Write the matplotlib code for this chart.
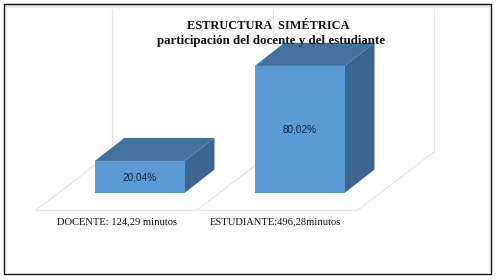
import matplotlib
matplotlib.use("Agg")
import matplotlib.pyplot as plt
from matplotlib.patches import Polygon, Rectangle

categories = ["DOCENTE: 124,29 minutos", "ESTUDIANTE:496,28minutos"]
values = [20.04, 80.02]
value_labels = ["20,04%", "80,02%"]
title_lines = ["ESTRUCTURA  SIMÉTRICA", "participación del docente y del estudiante"]

FRONT = "#5B9BD5"
TOP = "#44729E"
SIDE = "#3A668F"
GRID = "#E6E6E6"

bar_w = 0.5625      # share of one category
dx, dy = 0.186, 14.6  # oblique offset of the bar depth
floor_dx, floor_dy = 0.475, 36.6
floor_y = -10.9
wall_top = 116.0

fig = plt.figure(figsize=(4.96, 2.80), dpi=100, facecolor="white")
ax = fig.add_axes([0, 0, 1, 1])
ax.set_xlim(-0.873, 2.2266)
ax.set_ylim(-55.0, 121.6)
ax.axis("off")

# floor and walls
left, right = -0.648, 1.363
for x in [left, (left + right) / 2, right]:
    ax.plot([x, x + floor_dx], [floor_y, floor_y + floor_dy], color=GRID, lw=1, zorder=1)
    ax.plot([x + floor_dx, x + floor_dx], [floor_y + floor_dy, wall_top], color=GRID, lw=1, zorder=1)
ax.plot([left, right], [floor_y, floor_y], color=GRID, lw=1, zorder=1)

# bars
for i, (v, lab) in enumerate(zip(values, value_labels)):
    x0, x1 = i - bar_w / 2, i + bar_w / 2
    ax.add_patch(Polygon([(x0, v), (x1, v), (x1 + dx, v + dy), (x0 + dx, v + dy)], fc=TOP, ec="none", zorder=2))
    ax.add_patch(Polygon([(x1, 0), (x1 + dx, dy), (x1 + dx, v + dy), (x1, v)], fc=SIDE, ec="none", zorder=2))
    ax.add_patch(Rectangle((x0, 0), bar_w, v, fc=FRONT, ec="none", zorder=3))
    ax.text(i, v / 2 - 0.3, lab, ha="center", va="center", fontsize=7.2, family="Liberation Sans",
            color="#12233A", zorder=4)
    ax.text(i - 0.144 - 0.011 * i, -18, categories[i], ha="center", va="center", fontsize=7.6,
            family="Liberation Serif", color="#111111", zorder=4)

ax.text(0.540, 0.908, title_lines[0], transform=ax.transAxes, ha="center", va="center", fontsize=8.9,
        family="Liberation Serif", weight="bold", color="#111111", zorder=5)
ax.text(0.546, 0.855, title_lines[1], transform=ax.transAxes, ha="center", va="center", fontsize=9.3,
        family="Liberation Serif", weight="bold", color="#111111", zorder=5)

# frame of the picture
ax.add_patch(Rectangle((0.0085, 0.972), 0.982, 0.012, transform=ax.transAxes, fc="#E8E8E8", ec="none", zorder=5))
ax.add_patch(Rectangle((0.0075, 0.0215), 0.982, 0.965, transform=ax.transAxes, fc="none", ec="#111111", lw=1, zorder=6))

fig.savefig("out.png", dpi=100)
